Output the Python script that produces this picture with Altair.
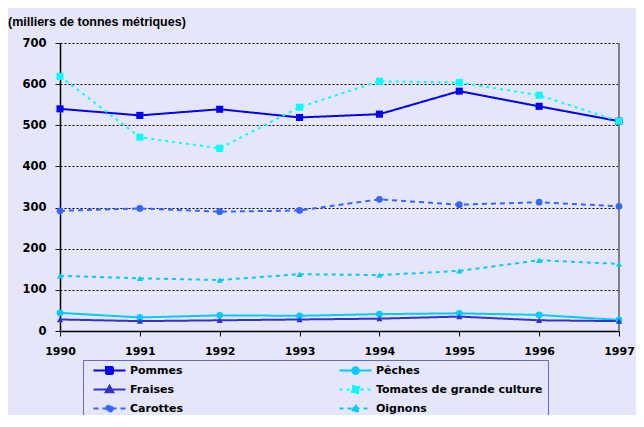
import altair as alt
import pandas as pd

years = [1990, 1991, 1992, 1993, 1994, 1995, 1996, 1997]
series = ["Pommes", "Pêches", "Fraises", "Tomates de grande culture", "Carottes", "Oignons"]
pommes = [540, 524, 539, 519, 527, 583, 546, 510]
peches = [44, 33, 38, 37, 41, 43, 39, 27]
fraises = [28, 24, 26, 28, 30, 35, 26, 24]
tomates = [619, 471, 444, 544, 607, 604, 573, 510]
carottes = [292, 298, 290, 293, 320, 307, 313, 303]
oignons = [134, 128, 124, 138, 136, 146, 172, 163]

colors = ["#0000FF", "#00CCFF", "#3333CC", "#00FFFF", "#3366FF", "#00CCFF"]
dashes = [[1, 0], [1, 0], [1, 0], [3, 4], [5, 4], [4, 4]]
marker = ["square", "circle", "triangle-up", "square", "circle", "triangle-up"]

sq = "M-4,0H4M-0.875,-0.875H0.875V0.875H-0.875Z"
ci = "M-4,0H4M0.82,0A0.82,0.82,0,1,1,-0.82,0A0.82,0.82,0,1,1,0.82,0Z"
tr = "M-4,0H4M0,-0.95L0.95,0.7L-0.95,0.7Z"
legend_paths = [sq, ci, tr, sq, ci, tr]

values = [pommes, peches, fraises, tomates, carottes, oignons]
rows = []
for s, v, m in zip(series, values, marker):
    for yr, val in zip(years, v):
        rows.append({"annee": yr, "valeur": val, "serie": s, "marqueur": m})
df = pd.DataFrame(rows)

xscale = alt.Scale(domain=[1990, 1997], nice=False, zero=False)
yscale = alt.Scale(domain=[0, 700], nice=False)
x = alt.X("annee:Q", scale=xscale,
          axis=alt.Axis(values=years, format="d", title=None, grid=False,
                        labelPadding=9, labelFlush=False))
y = alt.Y("valeur:Q", scale=yscale,
          axis=alt.Axis(values=list(range(0, 701, 100)), title=None,
                        grid=True, gridDash=[2, 2], gridColor="black",
                        gridOpacity=1, labelPadding=9, labelFlush=False,
                        labelFontSize=11.5))
cscale = alt.Scale(domain=series, range=colors)

lines = alt.Chart(df).mark_line(strokeWidth=2).encode(
    x=x, y=y,
    color=alt.Color("serie:N", scale=cscale),
    strokeDash=alt.StrokeDash("serie:N", scale=alt.Scale(domain=series, range=dashes)),
)

pts = []
for shp, sz in [("square", 50), ("circle", 45), ("triangle-up", 38)]:
    pts.append(alt.Chart(df).transform_filter(alt.datum["marqueur"] == shp)
               .mark_point(filled=True, opacity=1, shape=shp, size=sz).encode(
        x=x, y=y, color=alt.Color("serie:N", scale=cscale)))

right = alt.Chart(df).mark_rule(color="#808080", strokeWidth=1.5).encode(
    x=alt.X(datum=1997, type="quantitative", scale=xscale))

leg = alt.Chart(df).transform_filter("false").mark_point(filled=False, strokeWidth=2, opacity=1).encode(
    x=x, y=y,
    color=alt.Color("serie:N", scale=cscale,
                    legend=alt.Legend(title=None, orient="none", legendX=23, legendY=317,
                                      direction="horizontal",
                                      columns=2, columnPadding=150, rowPadding=3,
                                      padding=5, strokeColor="#6666CC",
                                      labelFont="DejaVu Sans", labelFontWeight="bold",
                                      labelFontSize=11, labelColor="black",
                                      symbolSize=64, symbolStrokeWidth=2,
                                      symbolOffset=16,
                                      labelOffset=15, labelLimit=300)),
    fill=alt.Fill("serie:N", scale=alt.Scale(domain=series, range=colors)),
    shape=alt.Shape("serie:N", scale=alt.Scale(domain=series, range=legend_paths)),
    strokeDash=alt.StrokeDash("serie:N", scale=alt.Scale(domain=series, range=dashes)),
)

chart = alt.layer(right, lines, *pts, leg).properties(
    width=559, height=288,
    autosize=alt.AutoSizeParams(type="none"),
    padding={"left": 52, "top": 35, "right": 17, "bottom": 84},
    background="#E6E6FA",
    title=alt.Title("(milliers de tonnes métriques)", anchor="start", frame="group",
                    dx=-52, offset=9, font="Liberation Sans", fontSize=12.5,
                    fontWeight="bold", color="black"),
).configure_view(stroke=None).configure_axis(
    domainColor="black", domainWidth=1.5, tickColor="black", tickSize=5,
    labelFont="DejaVu Sans", labelFontWeight="bold", labelFontSize=11,
    labelColor="black",
)

chart.save("out.html", embed_options={"renderer": "svg", "actions": False})
